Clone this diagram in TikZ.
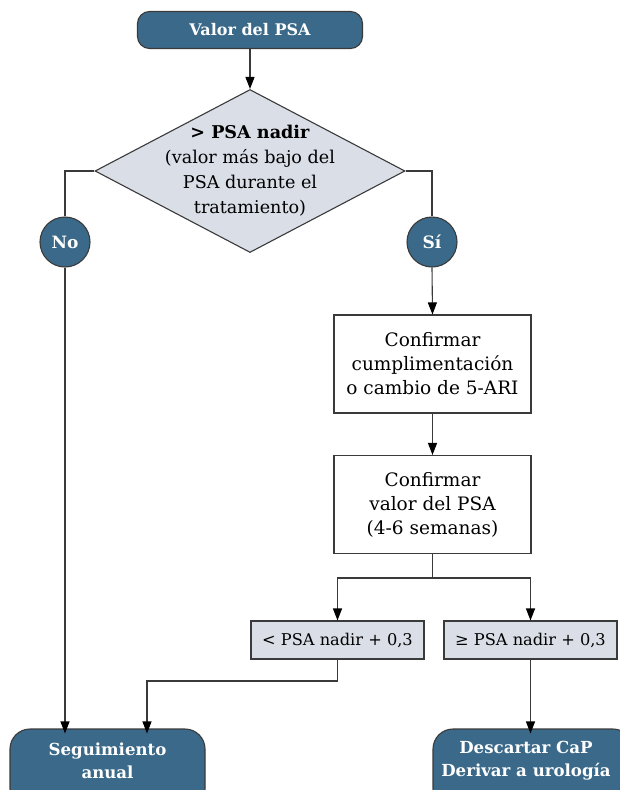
\documentclass[tikz,border=0pt]{standalone}
\usepackage{fontspec}
\setmainfont{DejaVu Serif}
\usetikzlibrary{shapes.geometric,arrows.meta}
\definecolor{navy}{HTML}{3A6989}
\definecolor{pale}{HTML}{DADEE7}
\definecolor{edge}{HTML}{3A3A3A}
\tikzset{
  term/.style={draw=edge, line width=1.1pt, fill=navy, rounded corners=12pt, text=white,
    font=\bfseries\fontsize{16}{20}\selectfont, align=center, inner sep=0pt},
  yesno/.style={circle, draw=edge, line width=1.1pt, fill=navy, text=white,
    font=\bfseries\fontsize{17}{20}\selectfont, minimum size=50pt, inner sep=0pt},
  stepbox/.style={draw=edge, line width=1.1pt, fill=white, align=center,
    font=\fontsize{18.5}{24}\selectfont, minimum width=197pt, minimum height=98pt, inner sep=0pt},
  cond/.style={draw=edge, line width=1.1pt, fill=pale, align=center,
    font=\fontsize{16.2}{20}\selectfont, minimum width=173pt, minimum height=38pt, inner sep=0pt},
  outtext/.style={font=\bfseries\fontsize{16.6}{23}\selectfont, text=white, align=center},
  link/.style={draw=edge, line width=1.1pt},
  flow/.style={link, -{Triangle[length=12pt,width=9pt,color=black]}},
}
\begin{document}
\begin{tikzpicture}[x=1pt,y=-1pt]
\useasboundingbox (0,0) rectangle (620,790);
% start
\node[term, minimum width=225pt, minimum height=37pt] (start) at (250,30) {Valor del PSA};
% decision: the shape, with its text set on top of it
\node[diamond, draw=edge, line width=1.1pt, fill=pale, minimum width=310pt, minimum height=163pt,
  inner sep=0pt] (dec) at (250,171) {};
\node[align=center, font=\fontsize{17.6}{25}\selectfont, inner sep=0pt] (dectxt) at (250,171)
  {\textbf{> PSA nadir}\\(valor más bajo del\\PSA durante el\\tratamiento)};
\node[yesno] (no) at (65,242) {No};
\node[yesno] (si) at (432,242) {Sí};
% steps
\node[stepbox] (conf) at (432.5,364) {Confirmar\\cumplimentación\\o cambio de 5-ARI};
\node[stepbox] (val) at (432.5,504.5) {Confirmar\\valor del PSA\\(4-6 semanas)};
\node[cond] (low) at (337.5,640) {< PSA nadir + 0,3};
\node[cond] (high) at (530.5,640) {≥ PSA nadir + 0,3};
% outcomes, running off the lower edge
\node[term, rounded corners=20pt, minimum width=195pt, minimum height=80pt] (annual) at (107.5,769) {};
\node[outtext] (annualtxt) at (107.5,761) {Seguimiento\\anual};
\node[term, rounded corners=20pt, minimum width=200pt, minimum height=80pt] (uro) at (533,769) {};
\node[outtext] (urotxt) at (526,761) {Descartar CaP\\Derivar a urología};
% connectors
\coordinate (fork) at (432.5,578);
\coordinate (join) at (147,681);
\draw[flow] (start.south) -- (dec.north);
\draw[link] (dec.west) -| (no.north);
\draw[link] (dec.east) -| (si.north);
\draw[flow] (si.south) -- (conf.north);
\draw[flow] (conf.south) -- (val.north);
\draw[link] (val.south) -- (fork);
\draw[flow] (fork) -| (low.north);
\draw[flow] (fork) -| (high.north);
\draw[flow] (no.south) -- ([yshift=-5pt]no.south |- annual.north);
\draw[flow] (low.south) |- (join) -- ([yshift=-5pt]join |- annual.north);
\draw[flow] (high.south) -- ([yshift=-5pt]high.south |- uro.north);
\end{tikzpicture}
\end{document}
